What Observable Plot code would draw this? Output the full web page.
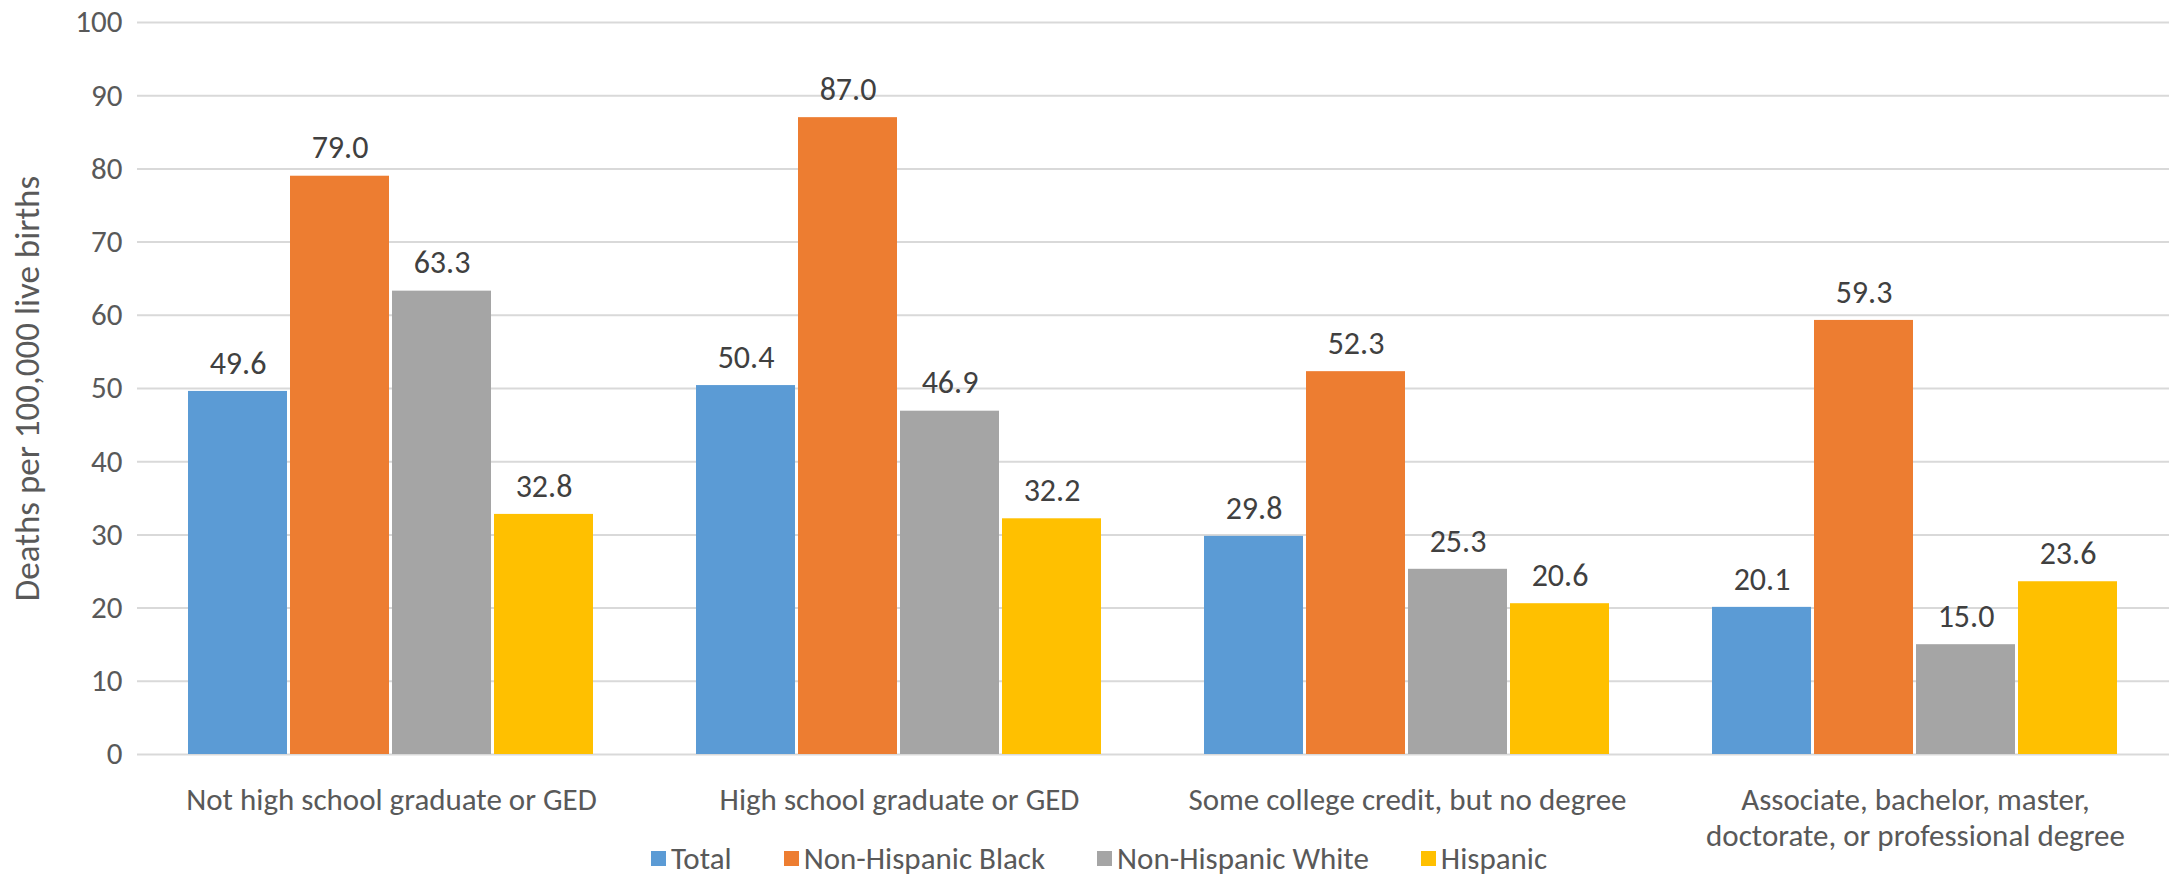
<!DOCTYPE html>
<html>
<head>
<meta charset="utf-8">
<script src="https://cdn.jsdelivr.net/npm/d3@7"></script>
<script src="https://cdn.jsdelivr.net/npm/@observablehq/plot@0.6"></script>
<style>
  html, body { margin: 0; padding: 0; background: white; }
  body { width: 2173px; height: 874px; overflow: hidden; font-family: Carlito, Calibri, Lato, sans-serif; }
  #legend { position: relative; height: 32px; display: flex; align-items: center; padding-left: 651px; font-size: 31px; color: #595959; }
  .item { display: flex; align-items: center; margin-right: 52px; }
  .sw { width: 15px; height: 15px; margin-right: 5px; }
</style>
</head>
<body>
<div id="chart"></div>
<div id="legend"></div>
<script>
const categories = [
  "Not high school graduate or GED",
  "High school graduate or GED",
  "Some college credit, but no degree",
  "Associate, bachelor, master, doctorate, or professional degree"
];
const tickLabels = [
  "Not high school graduate or GED",
  "High school graduate or GED",
  "Some college credit, but no degree",
  "Associate, bachelor, master,\ndoctorate, or professional degree"
];
const series = ["Total", "Non-Hispanic Black", "Non-Hispanic White", "Hispanic"];
const colors = ["#5B9BD5", "#ED7D31", "#A5A5A5", "#FFC000"];
const total = [49.6, 50.4, 29.8, 20.1];
const black = [79.0, 87.0, 52.3, 59.3];
const white = [63.3, 46.9, 25.3, 15.0];
const hispanic = [32.8, 32.2, 20.6, 23.6];
const yTicks = [0, 10, 20, 30, 40, 50, 60, 70, 80, 90, 100];
const yLabel = "Deaths per 100,000 live births";

const values = [total, black, white, hispanic];
const data = categories.flatMap((c, i) => series.map((s, j) => ({category: c, series: s, value: values[j][i]})));

const chart = Plot.plot({
  width: 2173,
  height: 842,
  marginLeft: 136,
  marginRight: 3,
  marginTop: 22,
  marginBottom: 88,
  style: {fontFamily: "Carlito, Calibri, Lato, sans-serif", fontSize: "31px", color: "#595959", background: "white", overflow: "visible"},
  fx: {domain: categories, padding: 0, axis: "bottom", label: null, tickSize: 0, tickPadding: 33, tickFormat: d => tickLabels[categories.indexOf(d)]},
  x: {domain: series, paddingInner: 0.029, paddingOuter: 0.483, axis: null},
  y: {domain: [0, 100], ticks: yTicks, tickSize: 0, tickPadding: 15, label: yLabel, labelArrow: "none", labelAnchor: "center", labelOffset: 123, tickFormat: d => String(d)},
  color: {domain: series, range: colors},
  marks: [
    Plot.ruleY(yTicks, {stroke: "#d9d9d9", strokeWidth: 2}),
    Plot.barY(data, {fx: "category", x: "series", y: "value", fill: "series"}),
    Plot.text(data, {fx: "category", x: "series", y: "value", text: d => d.value.toFixed(1), dy: -28, fill: "#404040", fontSize: 32})
  ]
});
chart.querySelectorAll("text").forEach(t => {
  if (t.textContent.startsWith("Deaths")) {
    t.textContent = yLabel;
    t.style.fontSize = "35px";
  }
  const spans = t.querySelectorAll("tspan");
  spans.forEach((s, k) => { if (k > 0) s.setAttribute("dy", "1.17em"); });
});
document.getElementById("chart").appendChild(chart);

const legend = document.getElementById("legend");
series.forEach((s, i) => {
  const item = document.createElement("div");
  item.className = "item";
  const sw = document.createElement("div");
  sw.className = "sw";
  sw.style.background = colors[i];
  const t = document.createElement("span");
  t.textContent = s;
  item.appendChild(sw);
  item.appendChild(t);
  legend.appendChild(item);
});
</script>
</body>
</html>
